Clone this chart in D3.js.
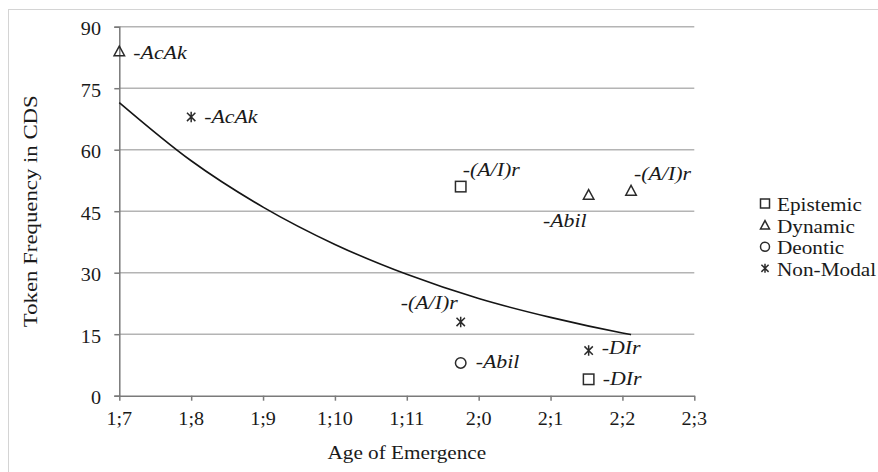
<!DOCTYPE html>
<html>
<head>
<meta charset="utf-8">
<script src="https://cdn.jsdelivr.net/npm/d3@7"></script>
<style>
  html, body { margin: 0; padding: 0; background: #fff; }
  svg { display: block; }
</style>
</head>
<body>
<svg id="chart" width="878" height="472"></svg>
<script>
// Age axis (months) and its labels in year;month notation
const ageTicks = [19, 20, 21, 22, 23, 24, 25, 26, 27];
const ageTickLabels = ["1;7", "1;8", "1;9", "1;10", "1;11", "2;0", "2;1", "2;2", "2;3"];
const freqTicks = [0, 15, 30, 45, 60, 75, 90];

// Modal categories (legend order)
const categories = ["Epistemic", "Dynamic", "Deontic", "Non-Modal"];

// Suffix observations per category: age of emergence (months), token frequency in CDS
const epistemicAges = [23.75, 25.53];
const epistemicFreq = [51, 4];
const epistemicSuffix = ["-(A/I)r", "-DIr"];

const dynamicAges = [19, 25.53, 26.12];
const dynamicFreq = [84, 49, 50];
const dynamicSuffix = ["-AcAk", "-Abil", "-(A/I)r"];

const deonticAges = [23.75];
const deonticFreq = [8];
const deonticSuffix = ["-Abil"];

const nonModalAges = [20, 23.75, 25.53];
const nonModalFreq = [68, 18, 11];
const nonModalSuffix = ["-AcAk", "-(A/I)r", "-DIr"];

// Exponential trend line across the observed age range
const trendAges = [19, 20, 21, 22, 23, 24, 25, 26, 26.12];
const trendFreq = [71.5, 57.3, 46.0, 36.9, 29.6, 23.7, 19.1, 15.3, 14.9];

const svg = d3.select("#chart");
const W = 878, H = 472;
const plot = { left: 119.3, right: 694.3, top: 26.7, bottom: 395.7 };
const serif = "'Liberation Serif', 'Times New Roman', serif";
const ink = "#2b2b2b";

// Frame around the chart area
svg.append("rect")
  .attr("x", 8.5).attr("y", 9.5)
  .attr("width", W + 20).attr("height", H + 20)
  .attr("fill", "none").attr("stroke", "#d4d4d4").attr("stroke-width", 1);

const x = d3.scaleLinear().domain([19, 27]).range([plot.left, plot.right]);
const y = d3.scaleLinear().domain([0, 90]).range([plot.bottom, plot.top]);

// Text with a slight horizontal widening of the glyphs
function label(g, str, px, py, opts = {}) {
  const t = g.append("text")
    .attr("transform", `translate(${px},${py})` + (opts.rotate ? ` rotate(${opts.rotate})` : "") + ` scale(${opts.sx || 1.14},1)`)
    .attr("font-family", serif)
    .attr("font-size", opts.size || 18)
    .attr("font-style", opts.italic ? "italic" : "normal")
    .attr("text-anchor", opts.anchor || "start")
    .attr("fill", opts.fill || "#1a1a1a")
    .text(str);
  return t;
}

// Horizontal gridlines
svg.append("g").selectAll("line")
  .data(freqTicks.filter(d => d > 0))
  .join("line")
  .attr("x1", plot.left).attr("x2", plot.right)
  .attr("y1", d => y(d)).attr("y2", d => y(d))
  .attr("stroke", "#b4b4b4").attr("stroke-width", 1.4);

// Y axis
const yAxis = svg.append("g")
  .attr("transform", `translate(${plot.left},0)`)
  .call(d3.axisLeft(y).tickValues(freqTicks).tickSize(5).tickFormat(""));
yAxis.select(".domain").attr("stroke", "#7a7a7a").attr("stroke-width", 1.5);
yAxis.selectAll(".tick line").attr("stroke", "#7a7a7a").attr("stroke-width", 1.5);
const yLabels = svg.append("g");
freqTicks.forEach(v => label(yLabels, String(v), 101, y(v) + 8.3, { anchor: "end", size: 18, sx: 1.12 }));

// X axis
const xAxis = svg.append("g")
  .attr("transform", `translate(0,${plot.bottom})`)
  .call(d3.axisBottom(x).tickValues(ageTicks).tickSize(5).tickFormat("").tickSizeOuter(0));
xAxis.select(".domain").attr("stroke", "#7a7a7a").attr("stroke-width", 1.5);
xAxis.selectAll(".tick line").attr("stroke", "#7a7a7a").attr("stroke-width", 1.5);
const xLabels = svg.append("g");
ageTicks.forEach((v, i) => label(xLabels, ageTickLabels[i], x(v), plot.bottom + 29.5, { anchor: "middle", size: 18, sx: 1.12 }));

// Axis titles
label(svg, "Age of Emergence", (plot.left + plot.right) / 2, 459, { anchor: "middle", size: 18, sx: 1.18 });
label(svg, "Token Frequency in CDS", 37, (plot.top + plot.bottom) / 2, { anchor: "middle", size: 19, sx: 1.2, rotate: -90 });

// Trend line
const line = d3.line().x((d, i) => x(trendAges[i])).y(d => y(d)).curve(d3.curveMonotoneX);
svg.append("path")
  .attr("d", line(trendFreq))
  .attr("fill", "none").attr("stroke", "#151515").attr("stroke-width", 1.6);

// Marker shapes
function marker(g, kind, cx, cy, s) {
  const m = g.append("g").attr("transform", `translate(${cx},${cy})`)
    .attr("fill", "none").attr("stroke", ink).attr("stroke-width", 1.5);
  const h = s / 2;
  if (kind === "Epistemic") {
    m.append("rect").attr("x", -h).attr("y", -h).attr("width", s).attr("height", s);
  } else if (kind === "Dynamic") {
    m.append("path").attr("d", `M0,${-h}L${h},${h * 0.85}L${-h},${h * 0.85}Z`);
  } else if (kind === "Deontic") {
    m.append("circle").attr("r", h);
  } else {
    const a = h * 0.8;
    m.append("path").attr("d", `M${-a},${-a}L${a},${a}M${a},${-a}L${-a},${a}M0,${-h}L0,${h}`);
  }
}

const groups = [
  { cat: "Epistemic", ages: epistemicAges, freq: epistemicFreq, suffix: epistemicSuffix },
  { cat: "Dynamic", ages: dynamicAges, freq: dynamicFreq, suffix: dynamicSuffix },
  { cat: "Deontic", ages: deonticAges, freq: deonticFreq, suffix: deonticSuffix },
  { cat: "Non-Modal", ages: nonModalAges, freq: nonModalFreq, suffix: nonModalSuffix }
];

// Label placement relative to each marker [dx, dy, anchor]
const placement = {
  "Epistemic": [[2, -11, "start"], [14, 6, "start"]],
  "Dynamic": [[14, 8, "start"], [-2, 32, "end"], [3, -11, "start"]],
  "Deontic": [[15, 5, "start"]],
  "Non-Modal": [[13, 6, "start"], [-3, -13, "end"], [13, 3, "start"]]
};

const pts = svg.append("g");
groups.forEach(gr => {
  gr.ages.forEach((a, i) => {
    const cx = x(a), cy = y(gr.freq[i]);
    marker(pts, gr.cat, cx, cy, 10.5);
    const [dx, dy, anc] = placement[gr.cat][i];
    label(pts, gr.suffix[i], cx + dx, cy + dy, { italic: true, size: 19.5, sx: 1.12, anchor: anc });
  });
});

// Legend
const legend = svg.append("g");
categories.forEach((c, i) => {
  const base = 211 + i * 21.6;
  marker(legend, c, 765, base - 7.5, 9);
  label(legend, c, 777, base, { size: 19.5, sx: 1.09 });
});
</script>
</body>
</html>
